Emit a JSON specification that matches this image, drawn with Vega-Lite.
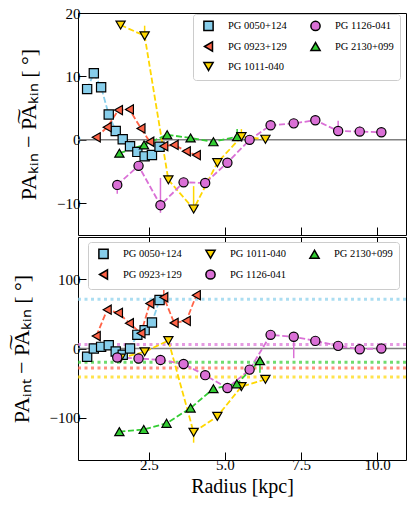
{
  "$schema": "https://vega.github.io/schema/vega-lite/v6.json",
  "padding": {"left": 9, "top": 5, "right": 5, "bottom": 5},
  "background": "white",
  "spacing": 0,
  "config": {
    "font": "Liberation Serif",
    "view": {"stroke": "black", "strokeWidth": 1},
    "axis": {"domain": false, "grid": false, "tickColor": "black", "tickSize": -8, "tickWidth": 1, "labelFont": "Liberation Serif", "labelFontSize": 15, "labelColor": "black", "titleFont": "Liberation Serif", "titleColor": "black", "titleFontWeight": "normal", "titleFontSize": 22, "labelPadding": 6, "titlePadding": 16},
    "legend": {"orient": "none", "title": null, "fillColor": "white", "strokeColor": "#cccccc", "cornerRadius": 3, "padding": 6, "labelFont": "Liberation Serif", "labelFontSize": 10.5, "labelColor": "black", "symbolSize": 85, "columnPadding": 19, "rowPadding": 4, "labelOffset": 14, "symbolOffset": 4}
  },
  "datasets": {
    "kin": [
      {"gal": "PG 0050+124", "r": 0.47, "y": 8.0},
      {"gal": "PG 0050+124", "r": 0.69, "y": 10.5},
      {"gal": "PG 0050+124", "r": 0.93, "y": 8.3},
      {"gal": "PG 0050+124", "r": 1.18, "y": 4.0},
      {"gal": "PG 0050+124", "r": 1.41, "y": 1.4},
      {"gal": "PG 0050+124", "r": 1.64, "y": 0.1},
      {"gal": "PG 0050+124", "r": 1.88, "y": -1.0},
      {"gal": "PG 0050+124", "r": 2.12, "y": -1.9},
      {"gal": "PG 0050+124", "r": 2.36, "y": -2.6},
      {"gal": "PG 0050+124", "r": 2.6, "y": -2.4},
      {"gal": "PG 0050+124", "r": 2.85, "y": -1.1},
      {"gal": "PG 0923+129", "r": 0.77, "y": 0.4},
      {"gal": "PG 0923+129", "r": 1.13, "y": 2.0},
      {"gal": "PG 0923+129", "r": 1.5, "y": 4.7},
      {"gal": "PG 0923+129", "r": 1.86, "y": 4.8},
      {"gal": "PG 0923+129", "r": 2.24, "y": 1.8},
      {"gal": "PG 0923+129", "r": 2.53, "y": -0.3},
      {"gal": "PG 0923+129", "r": 2.99, "y": -1.0},
      {"gal": "PG 0923+129", "r": 3.33, "y": -0.8},
      {"gal": "PG 0923+129", "r": 3.73, "y": -1.8},
      {"gal": "PG 0923+129", "r": 4.06, "y": -2.4},
      {"gal": "PG 1011-040", "r": 1.57, "y": 18.1},
      {"gal": "PG 1011-040", "r": 2.36, "y": 16.4, "lo": 16.4, "hi": 18.0},
      {"gal": "PG 1011-040", "r": 3.14, "y": -6.3},
      {"gal": "PG 1011-040", "r": 3.97, "y": -10.9, "lo": -10.9, "hi": -7.3},
      {"gal": "PG 1011-040", "r": 4.75, "y": -3.6},
      {"gal": "PG 1011-040", "r": 5.54, "y": 0.5, "lo": 0.5, "hi": 1.7},
      {"gal": "PG 1011-040", "r": 6.33, "y": 0.1},
      {"gal": "PG 1126-041", "r": 1.46, "y": -7.1, "lo": -8.5, "hi": -7.1},
      {"gal": "PG 1126-041", "r": 2.16, "y": -4.1},
      {"gal": "PG 1126-041", "r": 2.88, "y": -10.3, "lo": -11.5, "hi": -6.0},
      {"gal": "PG 1126-041", "r": 3.64, "y": -6.7},
      {"gal": "PG 1126-041", "r": 4.35, "y": -6.8},
      {"gal": "PG 1126-041", "r": 5.08, "y": -3.6},
      {"gal": "PG 1126-041", "r": 5.81, "y": 0.0},
      {"gal": "PG 1126-041", "r": 6.5, "y": 2.3},
      {"gal": "PG 1126-041", "r": 7.26, "y": 2.6},
      {"gal": "PG 1126-041", "r": 7.97, "y": 3.1},
      {"gal": "PG 1126-041", "r": 8.72, "y": 1.4, "lo": 1.4, "hi": 3.0},
      {"gal": "PG 1126-041", "r": 9.43, "y": 1.3, "lo": 1.3, "hi": 2.1},
      {"gal": "PG 1126-041", "r": 10.14, "y": 1.2},
      {"gal": "PG 2130+099", "r": 1.53, "y": -2.1},
      {"gal": "PG 2130+099", "r": 2.34, "y": -0.8},
      {"gal": "PG 2130+099", "r": 3.1, "y": 0.8},
      {"gal": "PG 2130+099", "r": 3.87, "y": 0.3},
      {"gal": "PG 2130+099", "r": 4.62, "y": -0.3},
      {"gal": "PG 2130+099", "r": 5.4, "y": 0.5, "lo": 0.5, "hi": 1.7}
    ],
    "int": [
      {"gal": "PG 0050+124", "r": 0.47, "y": -12},
      {"gal": "PG 0050+124", "r": 0.69, "y": 0},
      {"gal": "PG 0050+124", "r": 0.93, "y": 2.4},
      {"gal": "PG 0050+124", "r": 1.18, "y": 4.8},
      {"gal": "PG 0050+124", "r": 1.41, "y": -4.3},
      {"gal": "PG 0050+124", "r": 1.64, "y": -9},
      {"gal": "PG 0050+124", "r": 1.88, "y": 0},
      {"gal": "PG 0050+124", "r": 2.12, "y": 19.7},
      {"gal": "PG 0050+124", "r": 2.36, "y": 26.5},
      {"gal": "PG 0050+124", "r": 2.6, "y": 37.5},
      {"gal": "PG 0050+124", "r": 2.85, "y": 70},
      {"gal": "PG 0923+129", "r": 0.77, "y": 18},
      {"gal": "PG 0923+129", "r": 1.13, "y": 56},
      {"gal": "PG 0923+129", "r": 1.5, "y": 51.5},
      {"gal": "PG 0923+129", "r": 1.86, "y": 36.5},
      {"gal": "PG 0923+129", "r": 2.24, "y": 22},
      {"gal": "PG 0923+129", "r": 2.53, "y": 65},
      {"gal": "PG 0923+129", "r": 2.99, "y": 74, "lo": 64, "hi": 90},
      {"gal": "PG 0923+129", "r": 3.33, "y": 37},
      {"gal": "PG 0923+129", "r": 3.73, "y": 40},
      {"gal": "PG 0923+129", "r": 4.06, "y": 77},
      {"gal": "PG 1011-040", "r": 1.57, "y": -14},
      {"gal": "PG 1011-040", "r": 2.36, "y": -4.8},
      {"gal": "PG 1011-040", "r": 3.14, "y": 11.5},
      {"gal": "PG 1011-040", "r": 3.97, "y": -121, "lo": -136, "hi": -121},
      {"gal": "PG 1011-040", "r": 4.75, "y": -98},
      {"gal": "PG 1011-040", "r": 5.54, "y": -55},
      {"gal": "PG 1011-040", "r": 6.33, "y": -44.5},
      {"gal": "PG 1126-041", "r": 1.46, "y": -13},
      {"gal": "PG 1126-041", "r": 2.16, "y": -14.4},
      {"gal": "PG 1126-041", "r": 2.88, "y": -16.5},
      {"gal": "PG 1126-041", "r": 3.64, "y": -22.3},
      {"gal": "PG 1126-041", "r": 4.35, "y": -38.5},
      {"gal": "PG 1126-041", "r": 5.08, "y": -57, "lo": -63, "hi": -52},
      {"gal": "PG 1126-041", "r": 5.81, "y": -30.5},
      {"gal": "PG 1126-041", "r": 6.5, "y": 19.7},
      {"gal": "PG 1126-041", "r": 7.26, "y": 17, "lo": -14, "hi": 17},
      {"gal": "PG 1126-041", "r": 7.97, "y": 11},
      {"gal": "PG 1126-041", "r": 8.72, "y": 3.8},
      {"gal": "PG 1126-041", "r": 9.43, "y": -1},
      {"gal": "PG 1126-041", "r": 10.14, "y": 0},
      {"gal": "PG 2130+099", "r": 1.53, "y": -120},
      {"gal": "PG 2130+099", "r": 2.33, "y": -117},
      {"gal": "PG 2130+099", "r": 3.08, "y": -108},
      {"gal": "PG 2130+099", "r": 3.87, "y": -86},
      {"gal": "PG 2130+099", "r": 4.62, "y": -58},
      {"gal": "PG 2130+099", "r": 5.39, "y": -51},
      {"gal": "PG 2130+099", "r": 6.15, "y": -17.5, "lo": -35, "hi": -17.5}
    ],
    "ref": [
      {"gal": "PG 0050+124", "v": 71},
      {"gal": "PG 1126-041", "v": 5.8},
      {"gal": "PG 2130+099", "v": -20},
      {"gal": "PG 0923+129", "v": -28},
      {"gal": "PG 1011-040", "v": -41}
    ]
  },
  "resolve": {"scale": {"fill": "independent", "shape": "independent", "stroke": "independent"}},
  "vconcat": [
    {
      "width": 328,
      "height": 222,
      "resolve": {"axis": {"x": "independent", "y": "independent"}},
      "layer": [
        {
          "data": {"values": [{"v": 0}]},
          "mark": {"type": "rule", "color": "#808080", "strokeWidth": 1.5},
          "encoding": {"y": {"field": "v", "type": "quantitative", "scale": {"domain": [-15, 20], "nice": false, "zero": false}, "axis": null}}
        },
        {
          "data": {"name": "kin"},
          "mark": {"type": "line", "strokeWidth": 1.8, "strokeDash": [6, 2.6]},
          "encoding": {
            "x": {"field": "r", "type": "quantitative", "scale": {"domain": [0.17, 10.95], "nice": false, "zero": false}, "axis": null},
            "y": {"field": "y", "type": "quantitative", "axis": null},
            "stroke": {"field": "gal", "type": "nominal", "legend": null, "scale": {"domain": ["PG 2130+099", "PG 1126-041", "PG 1011-040", "PG 0923+129", "PG 0050+124"], "range": ["#32CD32", "#DA70D6", "#FFD700", "#FF6347", "#87CEEB"]}}
          }
        },
        {
          "data": {"name": "kin"},
          "transform": [{"filter": "isValid(datum.lo)"}],
          "mark": {"type": "rule", "strokeWidth": 1.5},
          "encoding": {
            "x": {"field": "r", "type": "quantitative", "axis": null},
            "y": {"field": "lo", "type": "quantitative", "axis": null},
            "y2": {"field": "hi"},
            "stroke": {"field": "gal", "type": "nominal", "legend": null}
          }
        },
        {
          "data": {"name": "kin"},
          "mark": {"type": "point", "filled": true, "size": 85, "stroke": "black", "strokeWidth": 1.2, "opacity": 1},
          "encoding": {
            "x": {"field": "r", "type": "quantitative", "axis": {"orient": "bottom", "labels": false, "title": null, "values": [2.5, 5, 7.5, 10]}},
            "y": {"field": "y", "type": "quantitative", "axis": {"values": [-10, 0, 10, 20], "title": "PAₖᵢₙ − P͠Aₖᵢₙ [ °]"}},
            "fill": {"field": "gal", "type": "nominal", "scale": {"domain": ["PG 0050+124", "PG 0923+129", "PG 1011-040", "PG 1126-041", "PG 2130+099"], "range": ["#87CEEB", "#FF6347", "#FFD700", "#DA70D6", "#32CD32"]}, "legend": {"legendX": 115, "legendY": 1, "columns": 2, "encode": {"symbols": {"update": {"stroke": {"value": "black"}, "strokeWidth": {"value": 1.2}}}}}},
            "shape": {"field": "gal", "type": "nominal", "scale": {"domain": ["PG 0050+124", "PG 0923+129", "PG 1011-040", "PG 1126-041", "PG 2130+099"], "range": ["square", "triangle-left", "triangle-down", "circle", "triangle-up"]}, "legend": {"legendX": 115, "legendY": 1, "columns": 2, "encode": {"symbols": {"update": {"stroke": {"value": "black"}, "strokeWidth": {"value": 1.2}}}}}}
          }
        }
      ]
    },
    {
      "width": 328,
      "height": 223,
      "resolve": {"axis": {"x": "independent", "y": "independent"}},
      "layer": [
        {
          "data": {"values": [{"v": 0}]},
          "mark": {"type": "rule", "color": "#808080", "strokeWidth": 1.5},
          "encoding": {"y": {"field": "v", "type": "quantitative", "scale": {"domain": [-161, 161], "nice": false, "zero": false}, "axis": null}}
        },
        {
          "data": {"name": "ref"},
          "mark": {"type": "rule", "strokeWidth": 3, "strokeDash": [3, 3.5], "opacity": 0.7},
          "encoding": {
            "y": {"field": "v", "type": "quantitative", "axis": null},
            "stroke": {"field": "gal", "type": "nominal", "legend": null, "scale": {"domain": ["PG 2130+099", "PG 1126-041", "PG 1011-040", "PG 0923+129", "PG 0050+124"], "range": ["#32CD32", "#DA70D6", "#FFD700", "#FF6347", "#87CEEB"]}}
          }
        },
        {
          "data": {"name": "int"},
          "mark": {"type": "line", "strokeWidth": 1.8, "strokeDash": [6, 2.6]},
          "encoding": {
            "x": {"field": "r", "type": "quantitative", "scale": {"domain": [0.17, 10.95], "nice": false, "zero": false}, "axis": {"orient": "top", "labels": false, "title": null, "values": [2.5, 5, 7.5, 10]}},
            "y": {"field": "y", "type": "quantitative", "axis": null},
            "stroke": {"field": "gal", "type": "nominal", "legend": null}
          }
        },
        {
          "data": {"name": "int"},
          "transform": [{"filter": "isValid(datum.lo)"}],
          "mark": {"type": "rule", "strokeWidth": 1.5},
          "encoding": {
            "x": {"field": "r", "type": "quantitative", "axis": null},
            "y": {"field": "lo", "type": "quantitative", "axis": null},
            "y2": {"field": "hi"},
            "stroke": {"field": "gal", "type": "nominal", "legend": null}
          }
        },
        {
          "data": {"name": "int"},
          "mark": {"type": "point", "filled": true, "size": 85, "stroke": "black", "strokeWidth": 1.2, "opacity": 1},
          "encoding": {
            "x": {"field": "r", "type": "quantitative", "axis": {"orient": "bottom", "values": [2.5, 5, 7.5, 10], "format": ".1f", "title": "Radius [kpc]", "titleFontSize": 20, "titleFontWeight": "normal", "titlePadding": 4, "labelPadding": 5}},
            "y": {"field": "y", "type": "quantitative", "axis": {"values": [-100, 0, 100], "title": "PAᵢₙₜ − P͠Aₖᵢₙ [ °]"}},
            "fill": {"field": "gal", "type": "nominal", "scale": {"domain": ["PG 0050+124", "PG 0923+129", "PG 1011-040", "PG 1126-041", "PG 2130+099"], "range": ["#87CEEB", "#FF6347", "#FFD700", "#DA70D6", "#32CD32"]}, "legend": {"legendX": 10, "legendY": 5, "columns": 3, "encode": {"symbols": {"update": {"stroke": {"value": "black"}, "strokeWidth": {"value": 1.2}}}}}},
            "shape": {"field": "gal", "type": "nominal", "scale": {"domain": ["PG 0050+124", "PG 0923+129", "PG 1011-040", "PG 1126-041", "PG 2130+099"], "range": ["square", "triangle-left", "triangle-down", "circle", "triangle-up"]}, "legend": {"legendX": 10, "legendY": 5, "columns": 3, "encode": {"symbols": {"update": {"stroke": {"value": "black"}, "strokeWidth": {"value": 1.2}}}}}}
          }
        }
      ]
    }
  ]
}
